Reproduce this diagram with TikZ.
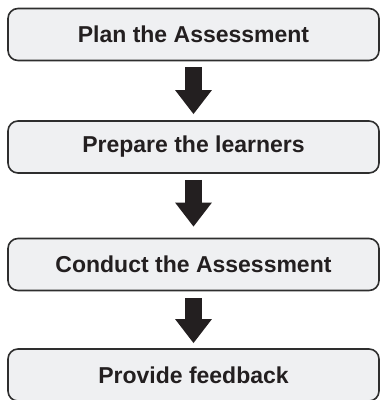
\documentclass[tikz,border=0pt]{standalone}
\usepackage{fontspec}
\setmainfont{Liberation Sans}
\usetikzlibrary{arrows.meta}
\definecolor{boxfill}{HTML}{EFF0F2}
\definecolor{boxline}{HTML}{2E2E2E}
\definecolor{ink}{HTML}{231F20}
\tikzset{
  stepbox/.style={draw=boxline, line width=1.6pt, fill=boxfill, rounded corners=10pt,
    minimum width=371pt, minimum height=52pt, inner sep=0pt,
    font=\fontsize{23}{27}\selectfont\bfseries, text=ink},
  bigarrow/.style={draw=ink, line width=17pt, -{Triangle[width=35pt,length=24pt]}, color=ink}
}
\begin{document}
\begin{tikzpicture}[x=1pt,y=-1pt]
\useasboundingbox (0,0) rectangle (380,400);
\clip (0,0) rectangle (380,400);
\node[stepbox] (b1) at (193.5,34.5) {Plan the Assessment};
\node[stepbox] (b2) at (193.5,147) {Prepare the learners};
\node[stepbox] (b3) at (193.5,264.5) {Conduct the Assessment};
\node[stepbox] (b4) at (193.5,375) {Provide feedback};
\draw[bigarrow] ([yshift=-6pt]b1.south) -- ([yshift=6pt]b2.north);
\draw[bigarrow] ([yshift=-6pt]b2.south) -- ([yshift=11pt]b3.north);
\draw[bigarrow] ([yshift=-7pt]b3.south) -- ([yshift=5pt]b4.north);
\end{tikzpicture}
\end{document}
